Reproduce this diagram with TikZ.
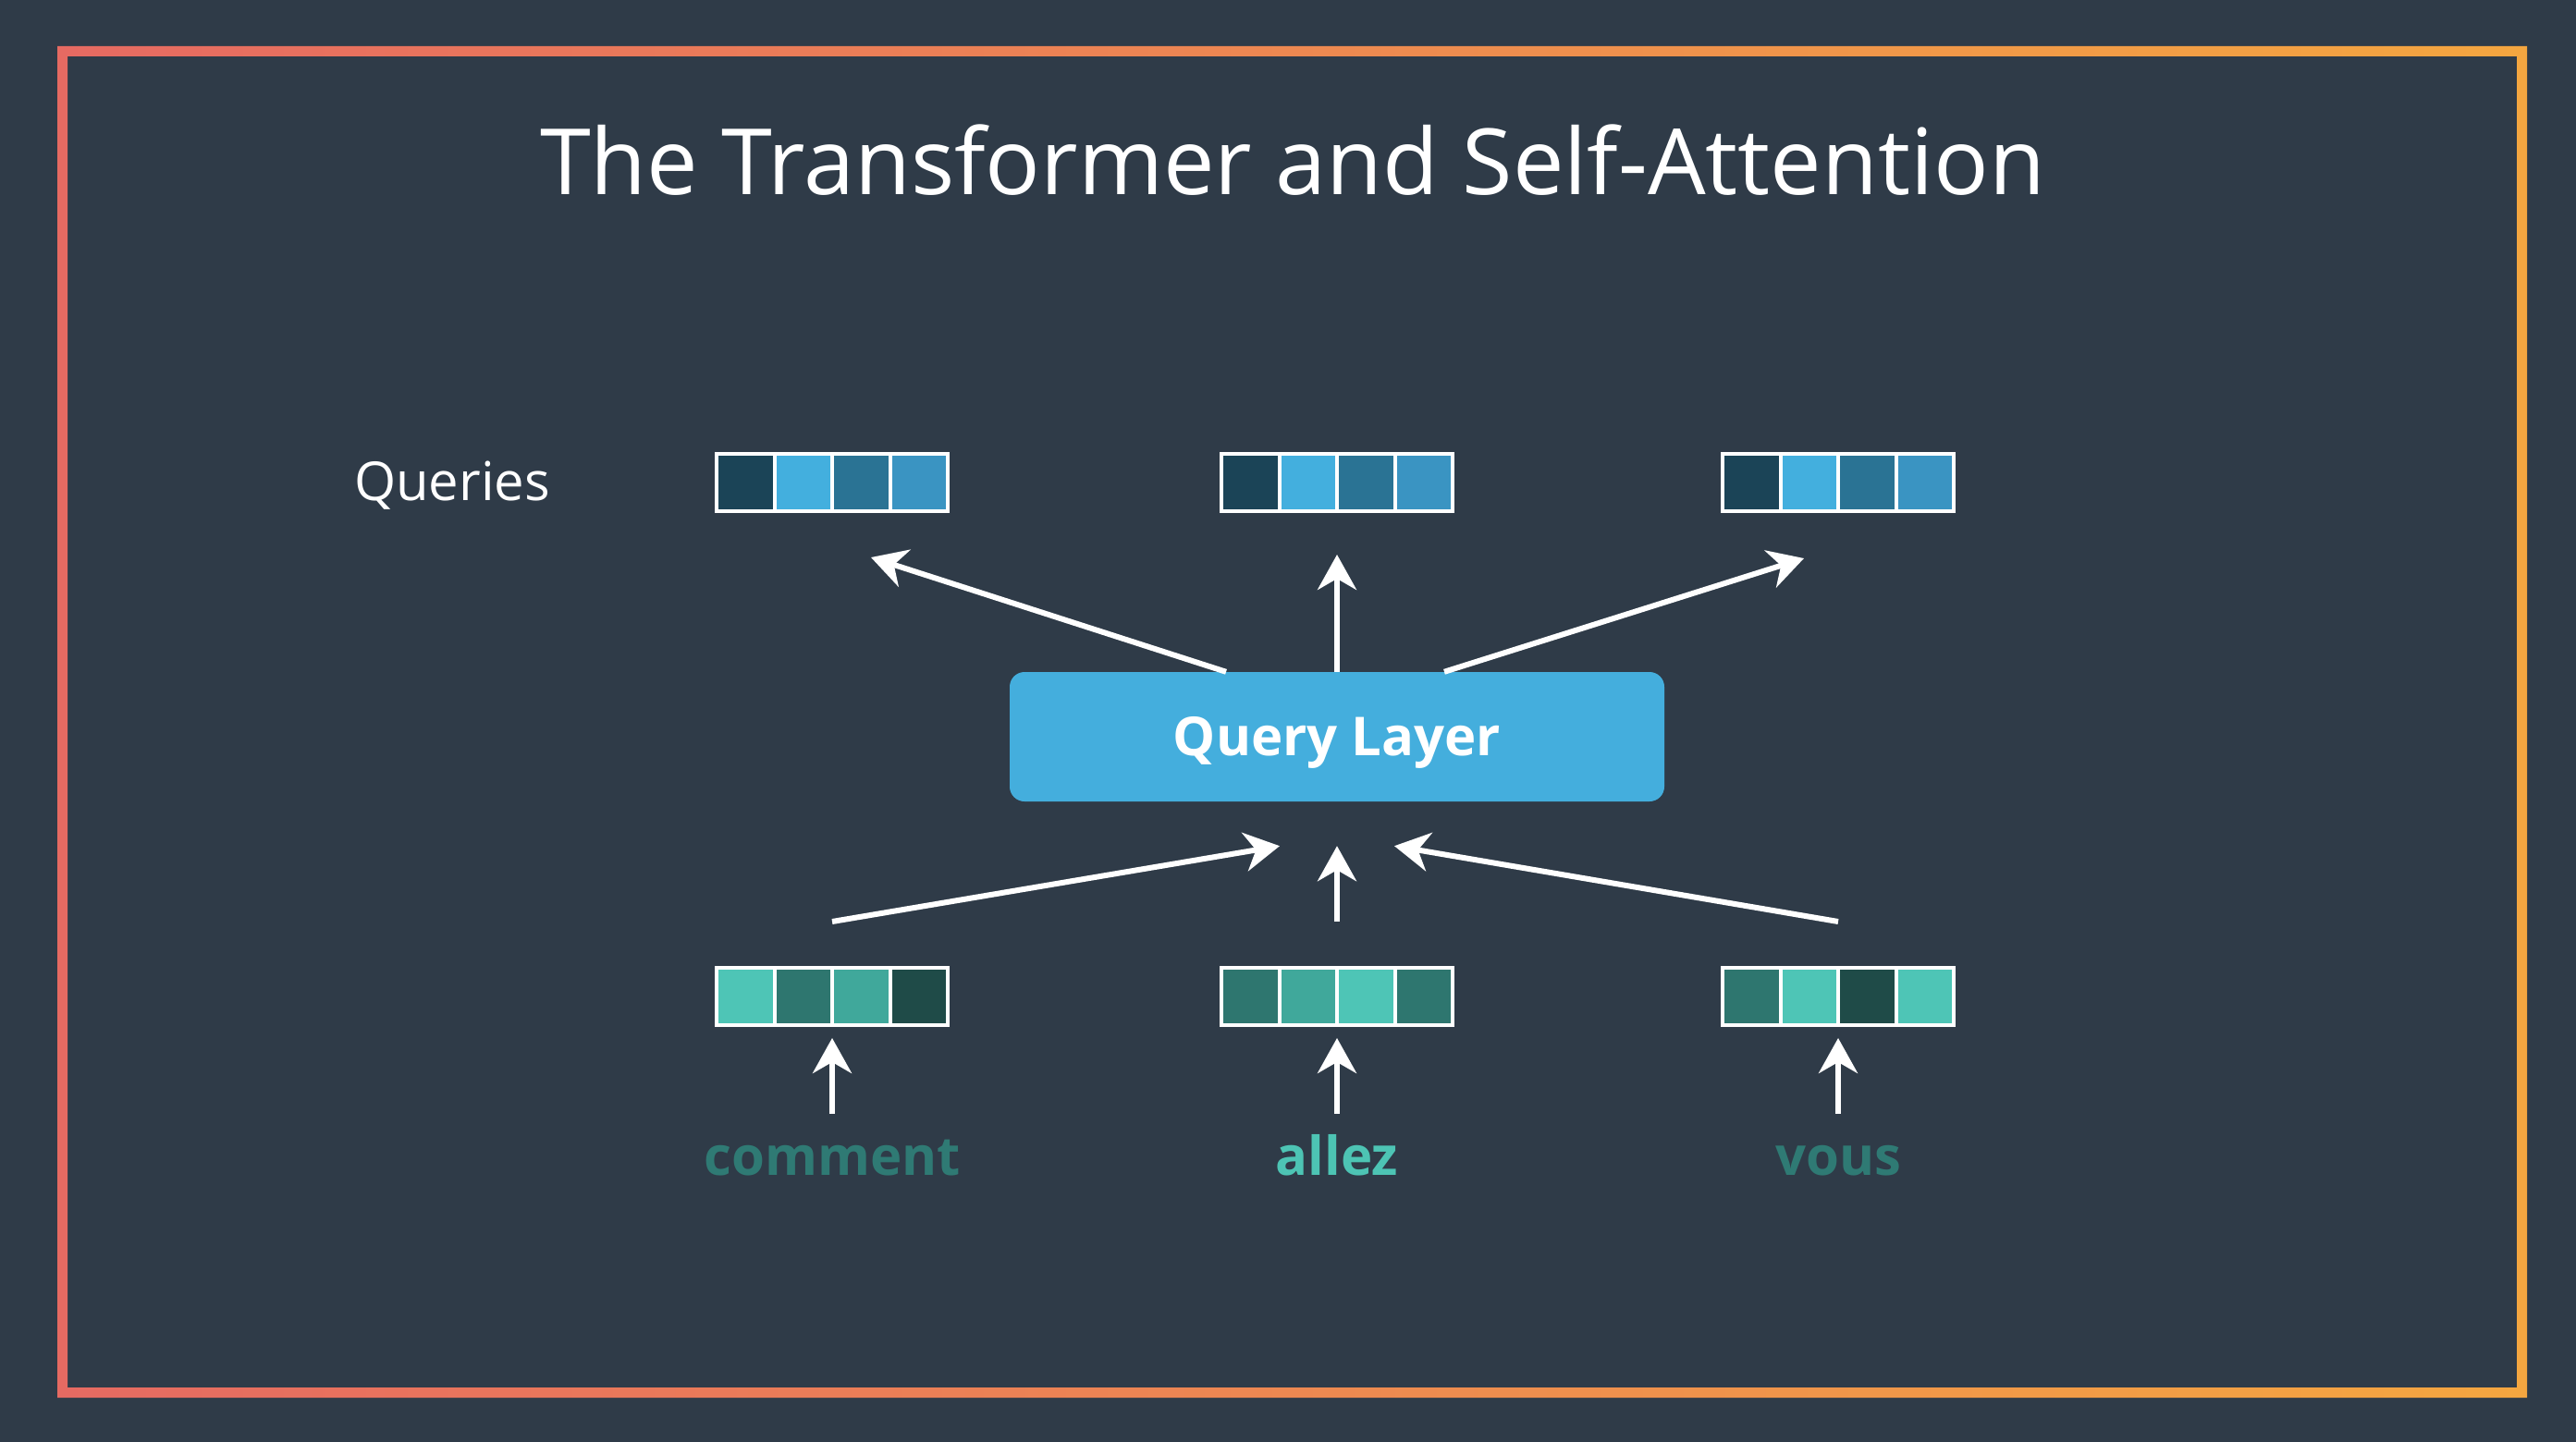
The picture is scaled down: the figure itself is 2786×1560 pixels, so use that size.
\documentclass[tikz,border=0pt]{standalone}
\usepackage{fontspec}
\setmainfont{Open Sans}
\usetikzlibrary{arrows.meta,calc}

\definecolor{bgcol}{HTML}{2F3B48}
\definecolor{framel}{HTML}{E66A62}
\definecolor{framer}{HTML}{F4A640}
\definecolor{layercol}{HTML}{44AEDD}
\definecolor{qdark}{HTML}{1B4457}
\definecolor{qlight}{HTML}{43AFDE}
\definecolor{qmid}{HTML}{2A7394}
\definecolor{qmed}{HTML}{3A94C2}
\definecolor{tbright}{HTML}{4EC5B6}
\definecolor{tdark}{HTML}{2E766F}
\definecolor{tmid}{HTML}{40A89B}
\definecolor{tdeep}{HTML}{1F4B48}
\definecolor{wdark}{HTML}{2F7A74}
\definecolor{wbright}{HTML}{4DC4B4}

\tikzset{
	cell/.style={draw=white, line width=4pt, minimum width=62.5pt, minimum height=62pt, inner sep=0pt, outer sep=0pt},
	arr/.style={white, line width=6pt, -{Stealth[length=38pt,width=42pt,inset=12pt]}},
	word/.style={font=\fontsize{58}{60}\selectfont\bfseries, inner sep=0pt, text height=30pt, text depth=0pt},
}

\newcommand{\vect}[4]{%
	\foreach \c [count=\i] in {#4}
		\node[cell, fill=\c] (#1-\i) at ({#2+(\i-2.5)*62.5},#3) {};
}

\begin{document}
\begin{tikzpicture}[x=1pt,y=-1pt]
		\useasboundingbox (0,0) rectangle (2786,1560);
		\fill[bgcol] (0,0) rectangle (2786,1560);
		\shade[left color=framel, right color=framer, even odd rule] (62,50) rectangle (2733,1512) (73,61) rectangle (2722,1501);
		\node[text=white, anchor=base, font=\fontsize{99}{104}\selectfont] (title) at (1398,210) {The Transformer and Self-Attention};
		\begin{scope}
			\node[text=white, anchor=base, font=\fontsize{58}{60}\selectfont] (qlabel) at (489,541) {Queries};
			\vect{q1}{900}{522}{qdark,qlight,qmid,qmed}
			\vect{q2}{1446}{522}{qdark,qlight,qmid,qmed}
			\vect{q3}{1988}{522}{qdark,qlight,qmid,qmed}
		\end{scope}
		\begin{scope}
			\node[fill=layercol, rounded corners=16pt, minimum width=708pt, minimum height=140pt, text height=40pt, text depth=0pt, inner sep=0pt, text=white, font=\fontsize{58}{60}\selectfont\bfseries] (ql) at (1446,797) {Query Layer};
			\draw[arr] ($(ql.north)+(-120,0)$) -- ($(q1-2.south east)+(42,50)$);
			\draw[arr, shorten >=47pt] (ql.north) -- (q2-2.south east);
			\draw[arr] ($(ql.north)+(116,0)$) -- ($(q3-2.south east)+(-37,51)$);
		\end{scope}
		\begin{scope}
			\vect{b1}{900}{1078}{tbright,tdark,tmid,tdeep}
			\vect{b2}{1446}{1078}{tdark,tmid,tbright,tdark}
			\vect{b3}{1988}{1078}{tdark,tbright,tdeep,tbright}
			\draw[arr] ($(b1-2.north east)+(0,-50)$) -- ($(ql.south)+(-62,48)$);
			\draw[arr, shorten <=50pt, shorten >=48pt] (b2-2.north east) -- (ql.south);
			\draw[arr] ($(b3-2.north east)+(0,-50)$) -- ($(ql.south)+(62,48)$);
		\end{scope}
		\begin{scope}
			\node[word, wdark] (w1) at (900,1256) {comment};
			\node[word, wbright] (w2) at (1446,1256) {allez};
			\node[word, wdark] (w3) at (1988,1256) {vous};
			\draw[arr, shorten <=36pt, shorten >=14pt] (w1.north) -- (b1-2.south east);
			\draw[arr, shorten <=36pt, shorten >=14pt] (w2.north) -- (b2-2.south east);
			\draw[arr, shorten <=36pt, shorten >=14pt] (w3.north) -- (b3-2.south east);
		\end{scope}
	\end{tikzpicture}
\end{document}
